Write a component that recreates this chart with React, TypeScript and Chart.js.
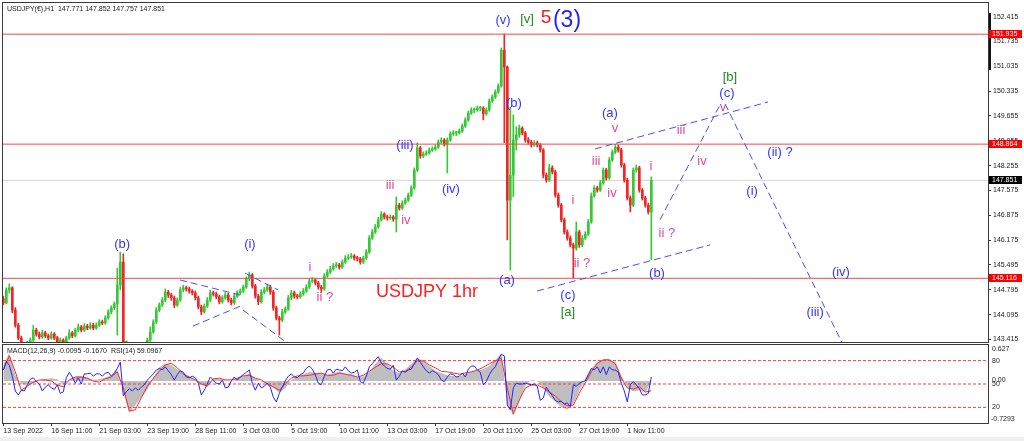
import React, { useEffect, useRef } from "react";
import { Chart, registerables } from "chart.js";

Chart.register(...registerables);

const FONT = '"Liberation Sans", Arial, sans-serif';

// Candles sampled every 4 hours of the H1 chart: [open, high, low, close]
const candles: number[][] = [
  [144.55, 144.62, 144.38, 144.43], [144.43, 144.85, 144.40, 144.79], [144.79, 144.96, 144.70, 144.85], [144.85, 144.88, 144.15, 144.23],
  [144.23, 144.30, 143.75, 143.81], [143.81, 143.86, 143.40, 143.45], [143.45, 143.50, 143.18, 143.25], [143.25, 143.30, 143.10, 143.17],
  [143.17, 143.36, 143.12, 143.31], [143.31, 143.45, 143.25, 143.39], [143.39, 143.80, 143.35, 143.67], [143.67, 143.72, 143.50, 143.56],
  [143.56, 143.62, 143.42, 143.48], [143.48, 143.66, 143.44, 143.59], [143.59, 143.64, 143.46, 143.51], [143.51, 143.56, 143.40, 143.45],
  [143.45, 143.62, 143.41, 143.56], [143.56, 143.60, 143.40, 143.45], [143.45, 143.50, 143.29, 143.34], [143.34, 143.45, 143.30, 143.39],
  [143.39, 143.43, 143.22, 143.28], [143.28, 143.50, 143.24, 143.45], [143.45, 143.68, 143.41, 143.59], [143.59, 143.63, 143.46, 143.51],
  [143.51, 143.72, 143.47, 143.67], [143.67, 143.84, 143.62, 143.76], [143.76, 143.80, 143.62, 143.67], [143.67, 143.85, 143.63, 143.78],
  [143.78, 143.83, 143.68, 143.73], [143.73, 143.88, 143.69, 143.81], [143.81, 143.86, 143.68, 143.73], [143.73, 143.87, 143.69, 143.81],
  [143.81, 143.96, 143.77, 143.90], [143.90, 143.95, 143.82, 143.87], [143.87, 144.07, 143.83, 144.01], [144.01, 144.24, 143.97, 144.18],
  [144.18, 144.35, 144.12, 144.29], [144.29, 144.46, 144.24, 144.40], [144.40, 145.40, 143.53, 144.93], [144.93, 145.85, 144.79, 145.57],
  [145.57, 145.80, 142.80, 142.95], [142.95, 143.05, 142.90, 142.97], [142.97, 143.02, 142.78, 142.84], [142.84, 142.95, 142.80, 142.89],
  [142.89, 142.93, 142.72, 142.78], [142.78, 142.95, 142.74, 142.89], [142.89, 143.03, 142.85, 142.97], [142.97, 143.12, 142.93, 143.06],
  [143.06, 143.45, 143.02, 143.39], [143.39, 143.76, 143.35, 143.62], [143.62, 143.96, 143.58, 143.90], [143.90, 144.30, 143.85, 144.23],
  [144.23, 144.43, 144.18, 144.37], [144.37, 144.58, 144.32, 144.51], [144.51, 144.82, 144.46, 144.73], [144.73, 144.78, 144.58, 144.65],
  [144.65, 144.70, 144.50, 144.57], [144.57, 144.62, 144.30, 144.37], [144.37, 144.57, 144.33, 144.51], [144.51, 144.86, 144.47, 144.79],
  [144.79, 144.92, 144.74, 144.85], [144.85, 144.90, 144.76, 144.82], [144.82, 144.87, 144.70, 144.76], [144.76, 144.80, 144.65, 144.71],
  [144.71, 144.76, 144.51, 144.57], [144.57, 144.62, 144.26, 144.32], [144.32, 144.37, 144.10, 144.18], [144.18, 144.40, 144.14, 144.34],
  [144.34, 144.58, 144.30, 144.51], [144.51, 144.78, 144.46, 144.71], [144.71, 144.76, 144.62, 144.68], [144.68, 144.73, 144.54, 144.60],
  [144.60, 144.65, 144.40, 144.46], [144.46, 144.63, 144.42, 144.57], [144.57, 144.72, 144.53, 144.65], [144.65, 144.70, 144.45, 144.51],
  [144.51, 144.56, 144.37, 144.43], [144.43, 144.68, 144.39, 144.62], [144.62, 144.77, 144.58, 144.71], [144.71, 144.82, 144.66, 144.76],
  [144.76, 144.93, 144.72, 144.87], [144.87, 145.16, 144.83, 145.10], [145.10, 145.29, 145.05, 145.21], [145.21, 145.25, 144.84, 144.90],
  [144.90, 144.95, 144.56, 144.62], [144.62, 144.67, 144.38, 144.46], [144.46, 144.80, 144.42, 144.73], [144.73, 144.86, 144.68, 144.79],
  [144.79, 144.95, 144.75, 144.87], [144.87, 144.92, 144.67, 144.73], [144.73, 144.78, 144.22, 144.29], [144.29, 144.34, 143.95, 144.01],
  [144.01, 144.06, 143.53, 143.95], [143.95, 144.25, 143.90, 144.18], [144.18, 144.32, 144.13, 144.26], [144.26, 144.64, 144.22, 144.57],
  [144.57, 144.78, 144.52, 144.71], [144.71, 144.76, 144.56, 144.62], [144.62, 144.67, 144.54, 144.60], [144.60, 144.74, 144.56, 144.68],
  [144.68, 144.83, 144.64, 144.76], [144.76, 144.94, 144.72, 144.87], [144.87, 145.10, 144.83, 145.04], [145.04, 145.14, 145.00, 145.07],
  [145.07, 145.11, 144.93, 144.99], [144.99, 145.03, 144.81, 144.87], [144.87, 144.92, 144.71, 144.82], [144.82, 145.25, 144.78, 145.18],
  [145.18, 145.36, 145.14, 145.29], [145.29, 145.45, 145.25, 145.38], [145.38, 145.53, 145.34, 145.46], [145.46, 145.56, 145.42, 145.49],
  [145.49, 145.54, 145.37, 145.43], [145.43, 145.63, 145.39, 145.57], [145.57, 145.75, 145.53, 145.68], [145.68, 145.78, 145.64, 145.71],
  [145.71, 145.81, 145.67, 145.74], [145.74, 145.78, 145.62, 145.68], [145.68, 145.73, 145.60, 145.66], [145.66, 145.70, 145.51, 145.57],
  [145.57, 145.74, 145.53, 145.68], [145.68, 145.92, 145.64, 145.85], [145.85, 146.31, 145.81, 146.24], [146.24, 146.48, 146.20, 146.41],
  [146.41, 146.62, 146.37, 146.55], [146.55, 146.82, 146.51, 146.75], [146.75, 146.98, 146.71, 146.91], [146.91, 146.95, 146.77, 146.83],
  [146.83, 146.88, 146.74, 146.80], [146.80, 146.89, 146.76, 146.83], [146.83, 146.87, 146.71, 146.77], [146.77, 147.39, 146.41, 147.16],
  [147.16, 147.21, 147.02, 147.08], [147.08, 147.28, 147.04, 147.22], [147.22, 147.36, 147.18, 147.30], [147.30, 147.50, 147.26, 147.44],
  [147.44, 147.70, 147.40, 147.64], [147.64, 148.20, 147.60, 148.14], [148.14, 148.90, 148.10, 148.76], [148.76, 148.80, 148.47, 148.53],
  [148.53, 148.65, 148.49, 148.59], [148.59, 148.68, 148.55, 148.62], [148.62, 148.76, 148.58, 148.70], [148.70, 148.79, 148.66, 148.73],
  [148.73, 148.84, 148.69, 148.78], [148.78, 148.98, 148.74, 148.92], [148.92, 149.04, 148.88, 148.98], [148.98, 149.02, 148.81, 148.87],
  [148.87, 149.04, 148.06, 148.98], [148.98, 149.21, 148.94, 149.15], [149.15, 149.24, 149.11, 149.18], [149.18, 149.23, 149.10, 149.18],
  [149.18, 149.29, 149.14, 149.23], [149.23, 149.43, 149.19, 149.37], [149.37, 149.60, 149.33, 149.54], [149.54, 149.79, 149.50, 149.73],
  [149.73, 149.88, 149.69, 149.82], [149.82, 149.88, 149.74, 149.82], [149.82, 149.93, 149.78, 149.87], [149.87, 149.92, 149.80, 149.87],
  [149.87, 149.91, 149.54, 149.71], [149.71, 149.88, 149.67, 149.82], [149.82, 150.13, 149.78, 150.07], [150.07, 150.24, 150.03, 150.18],
  [150.18, 150.38, 150.14, 150.32], [150.32, 150.55, 150.28, 150.49], [150.49, 151.55, 150.45, 151.49], [151.49, 151.94, 148.90, 151.02],
  [151.02, 151.05, 146.19, 147.30], [147.30, 149.90, 145.35, 148.00], [148.00, 149.68, 147.40, 148.98], [148.98, 149.35, 148.70, 149.12],
  [149.12, 149.40, 149.05, 149.31], [149.31, 149.35, 149.12, 149.18], [149.18, 149.22, 148.92, 148.98], [148.98, 149.05, 148.86, 148.92],
  [148.92, 148.97, 148.78, 148.84], [148.84, 148.96, 148.80, 148.90], [148.90, 148.95, 148.78, 148.84], [148.84, 148.88, 148.64, 148.70],
  [148.70, 148.74, 147.92, 148.00], [148.00, 148.06, 147.80, 147.86], [147.86, 148.30, 147.82, 148.20], [148.20, 148.26, 148.03, 148.09],
  [148.09, 148.14, 147.38, 147.44], [147.44, 147.50, 147.10, 147.16], [147.16, 147.21, 146.69, 146.75], [146.75, 146.80, 146.35, 146.41],
  [146.41, 146.47, 146.18, 146.24], [146.24, 146.30, 145.99, 146.05], [146.05, 146.10, 145.12, 145.96], [145.96, 146.69, 145.90, 146.41],
  [146.41, 146.46, 145.98, 146.05], [146.05, 146.31, 146.00, 146.24], [146.24, 146.42, 146.20, 146.35], [146.35, 146.76, 146.31, 146.69],
  [146.69, 147.50, 146.65, 147.42], [147.42, 147.70, 147.38, 147.64], [147.64, 147.69, 147.52, 147.58], [147.58, 147.85, 147.54, 147.78],
  [147.78, 148.20, 147.74, 148.14], [148.14, 148.19, 147.86, 147.92], [147.92, 148.49, 147.88, 148.42], [148.42, 148.70, 148.38, 148.64],
  [148.64, 148.86, 148.60, 148.78], [148.78, 148.84, 148.64, 148.70], [148.70, 148.75, 148.22, 148.28], [148.28, 148.33, 147.80, 147.86],
  [147.86, 147.91, 147.30, 147.36], [147.36, 147.42, 146.97, 147.16], [147.16, 148.20, 147.12, 148.14], [148.14, 148.28, 148.08, 148.20],
  [148.20, 148.25, 147.52, 147.58], [147.58, 147.63, 147.30, 147.36], [147.36, 147.41, 147.10, 147.16], [147.16, 147.22, 146.91, 146.97],
  [146.97, 147.95, 145.63, 147.85],
];

const priceTicks = [152.415, 151.735, 151.035, 150.335, 149.655, 148.955, 148.255, 147.575, 146.875, 146.175, 145.495, 144.795, 144.095, 143.415];
const levelLines = [151.935, 148.864, 145.116];
const bidPrice = 147.851;

const xTickIdx = [0, 16, 32, 48, 64, 80, 96, 112, 128, 144, 160, 176, 192, 208];
const xTickLabels = [
  "13 Sep 2022", "16 Sep 11:00", "21 Sep 03:00", "23 Sep 19:00", "28 Sep 11:00", "3 Oct 03:00", "5 Oct 19:00",
  "10 Oct 11:00", "13 Oct 03:00", "17 Oct 19:00", "20 Oct 11:00", "25 Oct 03:00", "27 Oct 19:00", "1 Nov 11:00",
];

// RSI(14), one value per candle
const rsiValues = [
  68, 79, 74, 60, 41, 36, 42, 41, 49, 56,
  58, 53, 50, 41, 46, 49, 45, 43, 49, 38,
  40, 58, 65, 59, 51, 58, 50, 63, 63, 64,
  60, 63, 63, 60, 64, 65, 60, 64, 70, 78,
  35, 40, 44, 41, 45, 42, 46, 49, 55, 59,
  63, 68, 70, 68, 72, 67, 62, 55, 62, 67,
  65, 59, 58, 60, 58, 51, 36, 42, 50, 59,
  55, 51, 50, 55, 45, 46, 54, 59, 55, 59,
  62, 65, 68, 51, 42, 51, 45, 47, 51, 46,
  33, 27, 38, 46, 54, 60, 63, 59, 58, 62,
  64, 70, 73, 69, 62, 51, 49, 60, 68, 69,
  64, 69, 68, 67, 72, 67, 64, 65, 68, 53,
  51, 60, 72, 76, 81, 85, 77, 73, 70, 69,
  74, 55, 60, 67, 65, 68, 69, 76, 83, 78,
  72, 67, 64, 67, 65, 62, 55, 53, 59, 63,
  62, 59, 60, 64, 59, 69, 73, 73, 68, 65,
  49, 53, 62, 68, 72, 81, 88, 86, 23, 17,
  45, 51, 50, 50, 51, 50, 49, 50, 47, 29,
  32, 46, 40, 35, 29, 27, 28, 24, 26, 21,
  49, 47, 51, 53, 54, 62, 70, 68, 72, 64,
  72, 62, 72, 68, 68, 65, 51, 41, 27, 49,
  53, 49, 44, 36, 36, 38, 59,
];

// MACD(12,26,9) main (grey histogram) and signal (red), one value every 2 candles
const macdStep = 2;
const macdValues = [
  0.28, 0.49, 0.10, -0.05, -0.06, -0.04, 0.00, 0.04, 0.05, 0.03,
  -0.07, 0.02, 0.08, 0.09, 0.06, 0.02, 0.03, 0.06, 0.10, 0.20,
  -0.20, -0.55, -0.42, -0.28, -0.15, 0.05, 0.24, 0.31, 0.28, 0.20,
  0.14, 0.08, 0.02, -0.07, -0.08, 0.03, 0.04, 0.01, 0.00, 0.05,
  0.08, 0.14, 0.05, -0.01, -0.05, -0.12, -0.20, -0.12, 0.02, 0.08,
  0.12, 0.16, 0.15, 0.14, 0.11, 0.14, 0.16, 0.13, 0.12, 0.07,
  0.08, 0.16, 0.30, 0.40, 0.30, 0.18, 0.14, 0.20, 0.30, 0.41,
  0.35, 0.26, 0.18, 0.14, 0.10, 0.09, 0.08, 0.12, 0.16, 0.18,
  0.21, 0.26, 0.36, 0.49, -0.40, -0.60, -0.35, -0.07, 0.02, 0.00,
  -0.12, -0.27, -0.36, -0.45, -0.50, -0.40, -0.17, 0.05, 0.22, 0.33,
  0.37, 0.37, 0.33, 0.10, -0.10, -0.18, -0.16, -0.20, -0.01,
];
const signalValues = [
  0.19, 0.44, 0.16, -0.16, -0.09, -0.02, 0.02, 0.02, 0.00, -0.07,
  -0.10, 0.02, 0.07, 0.07, 0.05, 0.00, -0.02, 0.04, 0.07, 0.16,
  -0.12, -0.52, -0.50, -0.29, -0.09, 0.05, 0.17, 0.28, 0.31, 0.23,
  0.12, 0.07, 0.02, -0.05, -0.09, 0.04, 0.05, 0.02, 0.02, 0.05,
  0.09, 0.10, 0.05, 0.02, -0.05, -0.10, -0.16, -0.05, 0.05, 0.09,
  0.09, 0.10, 0.12, 0.14, 0.10, 0.10, 0.14, 0.12, 0.10, 0.07,
  0.10, 0.17, 0.24, 0.30, 0.30, 0.24, 0.16, 0.17, 0.24, 0.35,
  0.35, 0.28, 0.23, 0.17, 0.16, 0.14, 0.12, 0.14, 0.16, 0.19,
  0.24, 0.30, 0.35, 0.40, -0.12, -0.57, -0.33, -0.12, -0.07, -0.07,
  -0.12, -0.19, -0.26, -0.36, -0.43, -0.42, -0.21, -0.03, 0.16, 0.31,
  0.37, 0.37, 0.30, 0.05, -0.12, -0.14, -0.10, -0.19, -0.17,
];
const rsiLevels = [80, 50, 20];
const macdMin = -0.7293;
const macdMax = 0.627;

const headerMain = "USDJPY(€),H1  147.771 147.852 147.757 147.851";
const headerSub = "MACD(12,26,9) -0.0095 -0.1670  RSI(14) 59.0967";

// Elliott wave annotations at (candle index, price)
const waveLabels = [
  { text: "(v)", x: 166.6, p: 152.33, kind: "blue" },
  { text: "[v]", x: 174.6, p: 152.36, kind: "green" },
  { text: "5", x: 180.9, p: 152.39, kind: "red5" },
  { text: "(3)", x: 187.9, p: 152.30, kind: "big3" },
  { text: "(b)", x: 170.2, p: 149.99, kind: "blue" },
  { text: "(iii)", x: 133.9, p: 148.84, kind: "blue" },
  { text: "(iv)", x: 149.2, p: 147.61, kind: "blue" },
  { text: "iii", x: 128.9, p: 147.72, kind: "pink" },
  { text: "iv", x: 134.2, p: 146.72, kind: "pink" },
  { text: "i", x: 102.2, p: 145.41, kind: "pink" },
  { text: "ii ?", x: 107.2, p: 144.57, kind: "pink" },
  { text: "(i)", x: 82.2, p: 146.05, kind: "blue" },
  { text: "(b)", x: 39.6, p: 146.05, kind: "blue" },
  { text: "USDJPY 1hr", x: 141.2, p: 144.73, kind: "title" },
  { text: "(a)", x: 167.9, p: 145.07, kind: "blue" },
  { text: "(c)", x: 188.2, p: 144.65, kind: "blue" },
  { text: "[a]", x: 188.2, p: 144.15, kind: "green" },
  { text: "ii ?", x: 192.9, p: 145.54, kind: "pink" },
  { text: "i", x: 189.9, p: 147.30, kind: "pink" },
  { text: "(b)", x: 217.9, p: 145.26, kind: "blue" },
  { text: "ii ?", x: 221.2, p: 146.38, kind: "pink" },
  { text: "i", x: 215.9, p: 148.23, kind: "pink" },
  { text: "iii", x: 197.6, p: 148.39, kind: "pink" },
  { text: "iv", x: 202.9, p: 147.50, kind: "pink" },
  { text: "v", x: 203.9, p: 149.29, kind: "pink" },
  { text: "(a)", x: 202.2, p: 149.71, kind: "blue" },
  { text: "v", x: 239.9, p: 149.90, kind: "pink" },
  { text: "(c)", x: 241.2, p: 150.29, kind: "blue" },
  { text: "[b]", x: 242.2, p: 150.74, kind: "green" },
  { text: "iii", x: 225.9, p: 149.26, kind: "pink" },
  { text: "iv", x: 232.9, p: 148.39, kind: "pink" },
  { text: "(ii) ?", x: 258.9, p: 148.62, kind: "blue" },
  { text: "(i)", x: 249.6, p: 147.53, kind: "blue" },
  { text: "(iv)", x: 279.2, p: 145.29, kind: "blue" },
  { text: "(iii)", x: 270.6, p: 144.15, kind: "blue" },
];

// dashed trend lines: [x1, price1, x2, price2]
const trendLines = [
  [58.9, 145.07, 78.9, 144.65],
  [63.2, 143.78, 79.9, 144.37],
  [80.6, 145.26, 91.6, 144.79],
  [79.9, 144.23, 95.6, 143.25],
  [177.9, 144.76, 235.6, 146.05],
  [197.2, 148.73, 254.9, 150.04],
  [218.9, 146.75, 238.9, 149.96],
  [240.6, 149.99, 279.6, 143.31],
];

const X_MIN = -0.1;
const X_MAX = 328.23;
const P_MIN = 143.337;
const P_MAX = 152.806;

const labelStyle: any = {
  blue: { color: "#3333ff", size: 13 },
  pink: { color: "#e0489e", size: 13 },
  green: { color: "#1f8c1f", size: 13 },
  red5: { color: "#ff1a1a", size: 19 },
  big3: { color: "#2222ff", size: 23 },
  title: { color: "#ff2020", size: 18 },
};

const GREEN = "#36c936";
const RED = "#f02525";
const LEVEL = "#f04a4a";
const DASH_BLUE = "#4a4aff";
const FRAME = "#3a3a3a";

const noPad = (s: any) => {
  s.paddingTop = 0;
  s.paddingBottom = 0;
  s.paddingLeft = 0;
  s.paddingRight = 0;
};

const mainOverlay = {
  id: "mainOverlay",
  afterDatasetsDraw(chart: any) {
    const { ctx, chartArea: a, scales } = chart;
    const xs = scales.x;
    const ys = scales.y;
    ctx.save();
    ctx.beginPath();
    ctx.rect(a.left, a.top, a.right - a.left, a.bottom - a.top);
    ctx.clip();
    ctx.textAlign = "center";
    ctx.textBaseline = "middle";
    for (const w of waveLabels) {
      const st = labelStyle[w.kind];
      ctx.font = `${st.size}px ${FONT}`;
      ctx.fillStyle = st.color;
      ctx.fillText(w.text, xs.getPixelForValue(w.x), ys.getPixelForValue(w.p));
    }
    ctx.font = `7px ${FONT}`;
    ctx.fillStyle = "#222";
    ctx.textAlign = "left";
    ctx.fillText(headerMain, a.left + 4, a.top + 6.5);
    ctx.restore();
  },
  afterDraw(chart: any) {
    const { ctx, chartArea: a, scales } = chart;
    const ys = scales.y;
    ctx.save();
    ctx.strokeStyle = FRAME;
    ctx.lineWidth = 1;
    ctx.strokeRect(a.left - 0.5, a.top - 0.5, a.right - a.left + 1, a.bottom - a.top + 1);
    // scroll marker on price scale
    ctx.fillStyle = "#111";
    ctx.fillRect(a.right + 1, a.top + 10, 2, 57);
    ctx.font = `7px ${FONT}`;
    ctx.textAlign = "left";
    ctx.textBaseline = "middle";
    const box = (p: number, bg: string) => {
      const yy = Math.round(ys.getPixelForValue(p));
      ctx.fillStyle = bg;
      ctx.fillRect(a.right + 1, yy - 4, 33, 8);
      ctx.fillStyle = "#fff";
      ctx.fillText(p.toFixed(3), a.right + 4, yy + 0.5);
    };
    levelLines.forEach((p) => box(p, "#ff0000"));
    box(bidPrice, "#000");
    ctx.restore();
  },
};

const subOverlay = {
  id: "subOverlay",
  beforeDraw(chart: any) {
    const { ctx } = chart;
    ctx.save();
    ctx.fillStyle = "#f0f0f0";
    ctx.fillRect(0, chart.height - 4, chart.width, 4);
    ctx.restore();
  },
  afterDraw(chart: any) {
    const { ctx, chartArea: a, scales } = chart;
    const ms = scales.macd;
    ctx.save();
    ctx.strokeStyle = FRAME;
    ctx.lineWidth = 1;
    ctx.strokeRect(a.left - 0.5, a.top - 0.5, a.right - a.left + 1, a.bottom - a.top + 1);
    ctx.font = `7px ${FONT}`;
    ctx.fillStyle = "#222";
    ctx.textAlign = "left";
    ctx.textBaseline = "middle";
    ctx.fillText(headerSub, a.left + 4, a.top + 6);
    ctx.fillText(macdMax.toFixed(3), a.right + 4, ms.getPixelForValue(macdMax) + 4);
    ctx.fillText("0.00", a.right + 4, ms.getPixelForValue(0) - 1);
    ctx.fillText(macdMin.toFixed(4), a.right + 3, ms.getPixelForValue(macdMin) - 4);
    ctx.restore();
  },
};

function mainConfig(): any {
  const up = (c: number[]) => c[3] >= c[0];
  const colors = candles.map((c) => (up(c) ? GREEN : RED));
  const lineDs = (pts: any[], color: string, dash: number[], order: number) => ({
    type: "line",
    data: pts,
    borderColor: color,
    borderWidth: 1,
    borderDash: dash,
    pointRadius: 0,
    fill: false,
    order,
  });
  return {
    type: "bar",
    data: {
      datasets: [
        lineDs([{ x: X_MIN, y: bidPrice }, { x: X_MAX, y: bidPrice }], "#d6d6d6", [], 6),
        {
          type: "bar",
          data: candles.map((c, i) => ({ x: i, y: [c[2], c[1]] })),
          backgroundColor: colors,
          barThickness: 1,
          grouped: false,
          borderWidth: 0,
          order: 4,
        },
        {
          type: "bar",
          data: candles.map((c, i) => ({ x: i, y: [c[0], c[3]] })),
          backgroundColor: colors,
          barThickness: 2,
          minBarLength: 1,
          grouped: false,
          borderWidth: 0,
          order: 3,
        },
        ...levelLines.map((lv) => lineDs([{ x: X_MIN, y: lv }, { x: X_MAX, y: lv }], LEVEL, [], 2)),
        ...trendLines.map((t) => lineDs([{ x: t[0], y: t[1] }, { x: t[2], y: t[3] }], DASH_BLUE, [7, 4], 1)),
      ],
    },
    options: {
      responsive: false,
      animation: false,
      events: [],
      layout: { padding: { left: 3, top: 3, right: 0, bottom: 4 } },
      plugins: { legend: { display: false }, tooltip: { enabled: false } },
      scales: {
        x: { type: "linear", min: X_MIN, max: X_MAX, offset: false, display: false },
        y: {
          type: "linear",
          position: "right",
          min: P_MIN,
          max: P_MAX,
          afterBuildTicks: (s: any) => {
            s.ticks = priceTicks.map((v) => ({ value: v }));
          },
          afterFit: (s: any) => {
            s.width = 36;
            noPad(s);
          },
          ticks: {
            callback: (v: any) => Number(v).toFixed(3),
            font: { size: 7, family: FONT },
            color: "#222",
            padding: 2,
            autoSkip: false,
          },
          grid: { drawOnChartArea: false, drawTicks: true, tickLength: 3, color: "#333" },
          border: { display: true, color: "#333" },
        },
      },
    },
    plugins: [mainOverlay],
  };
}

function subConfig(): any {
  const flat = (v: number) => [{ x: X_MIN, y: v }, { x: X_MAX, y: v }];
  return {
    type: "line",
    data: {
      datasets: [
        {
          data: macdValues.map((v, j) => ({ x: j * macdStep, y: v })),
          yAxisID: "macd",
          borderWidth: 0,
          borderColor: "rgba(0,0,0,0)",
          backgroundColor: "#bfbfbf",
          fill: { value: 0 },
          pointRadius: 0,
          order: 5,
        },
        {
          data: signalValues.map((v, j) => ({ x: j * macdStep, y: v })),
          yAxisID: "macd",
          borderColor: "#ff2a2a",
          borderWidth: 1,
          pointRadius: 0,
          fill: false,
          order: 3,
        },
        ...rsiLevels.map((lv) => ({
          data: flat(lv),
          yAxisID: "rsi",
          borderColor: "#ff3a3a",
          borderWidth: 1,
          borderDash: [3, 2],
          pointRadius: 0,
          fill: false,
          order: 4,
        })),
        {
          data: rsiValues.map((v, i) => ({ x: i, y: v })),
          yAxisID: "rsi",
          borderColor: "#2424ff",
          borderWidth: 1,
          pointRadius: 0,
          fill: false,
          order: 1,
        },
      ],
    },
    options: {
      responsive: false,
      animation: false,
      events: [],
      layout: { padding: { left: 3, top: 2, right: 0, bottom: 0 } },
      plugins: { legend: { display: false }, tooltip: { enabled: false } },
      scales: {
        x: {
          type: "linear",
          min: X_MIN,
          max: X_MAX,
          offset: false,
          position: "bottom",
          afterBuildTicks: (s: any) => {
            s.ticks = xTickIdx.map((v) => ({ value: v }));
          },
          afterFit: (s: any) => {
            s.height = 18;
            noPad(s);
          },
          ticks: {
            callback: (v: any) => xTickLabels[xTickIdx.indexOf(Number(v))] ?? "",
            align: "start",
            font: { size: 7, family: FONT },
            color: "#222",
            padding: 1,
            maxRotation: 0,
            autoSkip: false,
          },
          grid: { drawOnChartArea: false, drawTicks: true, tickLength: 3, color: "#333" },
          border: { display: true, color: "#333" },
        },
        rsi: {
          type: "linear",
          position: "right",
          min: 0,
          max: 100,
          afterBuildTicks: (s: any) => {
            s.ticks = rsiLevels.map((v) => ({ value: v }));
          },
          afterFit: (s: any) => {
            s.width = 36;
            noPad(s);
          },
          ticks: {
            callback: (v: any) => String(v),
            font: { size: 7, family: FONT },
            color: "#222",
            padding: 4,
            autoSkip: false,
          },
          grid: { drawOnChartArea: false, drawTicks: false },
          border: { display: true, color: "#333" },
        },
        macd: { type: "linear", display: false, min: macdMin, max: macdMax },
      },
    },
    plugins: [subOverlay],
  };
}

export default function App() {
  const mainRef = useRef<HTMLCanvasElement>(null);
  const subRef = useRef<HTMLCanvasElement>(null);

  useEffect(() => {
    document.body.style.margin = "0";
    const main = new Chart(mainRef.current as HTMLCanvasElement, mainConfig());
    const sub = new Chart(subRef.current as HTMLCanvasElement, subConfig());
    return () => {
      main.destroy();
      sub.destroy();
    };
  }, []);

  return (
    <div style={{ position: "fixed", left: 0, top: 0, width: 1024, height: 441, background: "#fff", overflow: "hidden" }}>
      <canvas ref={mainRef} width={1024} height={346} style={{ position: "absolute", left: 0, top: 0, display: "block" }} />
      <canvas ref={subRef} width={1024} height={98} style={{ position: "absolute", left: 0, top: 343, display: "block" }} />
    </div>
  );
}
